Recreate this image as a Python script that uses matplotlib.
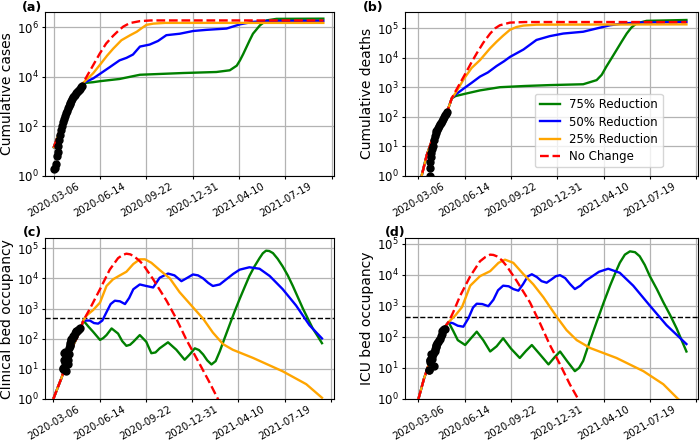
import numpy as np
import matplotlib
matplotlib.use("Agg")
import matplotlib.pyplot as plt
from matplotlib.ticker import NullLocator

# ---------------- data (days since 2020-03-06) ----------------
START = np.datetime64("2020-03-06")
tick_days = [0, 100, 200, 300, 400, 500, 600]
tick_labels = ["2020-03-06", "2020-06-14", "2020-09-22", "2020-12-31",
               "2021-04-10", "2021-07-19", ""]
series_names = ["75% Reduction", "50% Reduction", "25% Reduction", "No Change"]
series_colors = ["green", "blue", "orange", "red"]

# (a) cumulative cases
cases_obs_days = [0, 2, 4, 6, 8, 10, 12, 14, 16, 18, 20, 22, 24, 26, 28, 30, 32,
                  34, 36, 38, 40, 42, 44, 46, 48, 50, 52, 54, 56, 58, 60]
cases_obs = [1.9, 2.0, 3.0, 6.3, 8.9, 16, 28, 45, 71, 100, 145, 190, 250, 330,
             420, 520, 630, 760, 890, 1070, 1260, 1450, 1620, 1860, 2100, 2340,
             2630, 2950, 3310, 3720, 4170]
cases_fit_days = [0, 13, 20, 27, 35, 42, 49, 56, 63]
cases_fit = [14, 66, 200, 440, 850, 1500, 2400, 3600, 5500]
cases_nc_days = [80, 99, 113, 128, 140, 150, 164, 186, 210, 582]
cases_nc = [2.0e4, 8.5e4, 2.2e5, 4.5e5, 7.4e5, 1.07e6, 1.48e6, 1.78e6, 1.9e6, 1.9e6]
cases_25_days = [85, 100, 115, 128, 146, 165, 179, 190, 200, 215, 240, 582]
cases_25 = [1.38e4, 3.1e4, 7.1e4, 1.35e5, 3.0e5, 4.8e5, 6.6e5, 9.3e5, 1.26e6,
            1.41e6, 1.51e6, 1.51e6]
cases_50_days = [85, 100, 121, 142, 157, 171, 186, 207, 225, 243, 272, 301, 330,
                 373, 402, 430, 459, 582]
cases_50 = [8500, 1.32e4, 2.45e4, 4.6e4, 5.8e4, 7.9e4, 1.66e5, 2.0e5, 2.8e5,
            4.8e5, 5.5e5, 7.1e5, 7.9e5, 8.9e5, 1.32e6, 1.66e6, 1.82e6, 1.82e6]
cases_75_days = [85, 100, 142, 186, 279, 351, 380, 395, 402, 409, 416, 423, 430,
                 445, 459, 481, 582]
cases_75 = [6000, 6600, 8100, 1.2e4, 1.41e4, 1.55e4, 1.82e4, 2.8e4, 4.6e4,
            8.3e4, 1.58e5, 3.0e5, 5.5e5, 1.2e6, 1.9e6, 2.2e6, 2.24e6]

# (b) cumulative deaths
deaths_obs_days = [25, 25, 26, 27, 28, 30, 32, 33, 35, 37, 39, 41, 43, 45, 47,
                   49, 51, 53, 55, 57, 59, 61]
deaths_obs = [1, 1.8, 3.0, 4.2, 5.8, 7.9, 10, 16, 22, 28, 32, 35, 40, 48, 56,
              63, 74, 83, 95, 110, 123, 141]
deaths_fit_days = [0, 7, 18, 32, 43, 54, 65, 72]
deaths_fit = [0.5, 1, 5, 21, 40, 87, 200, 420]
deaths_nc_days = [80, 101, 115, 126, 140, 155, 166, 176, 198, 230, 579]
deaths_nc = [720, 2800, 7100, 1.41e4, 3.2e4, 6.6e4, 1.0e5, 1.26e5, 1.55e5,
             1.62e5, 1.62e5]
deaths_25_days = [80, 99, 115, 133, 155, 169, 183, 198, 212, 227, 255, 579]
deaths_25 = [630, 2000, 4500, 8300, 2.1e4, 3.5e4, 5.6e4, 8.9e4, 1.1e5, 1.23e5,
             1.32e5, 1.35e5]
deaths_50_days = [80, 99, 115, 133, 150, 169, 185, 198, 212, 227, 255, 284, 313,
                  356, 385, 414, 442, 471, 579]
deaths_50 = [560, 930, 1410, 2290, 3160, 5250, 7600, 1.07e4, 1.41e4, 1.9e4,
             4.0e4, 5.4e4, 6.6e4, 7.6e4, 9.8e4, 1.26e5, 1.45e5, 1.55e5, 1.62e5]
deaths_75_days = [80, 101, 133, 176, 230, 284, 356, 385, 396, 406, 417, 428,
                  439, 450, 460, 471, 493, 579]
deaths_75 = [500, 600, 780, 1000, 1100, 1180, 1260, 1740, 2630, 5000, 9500,
             1.82e4, 3.5e4, 6.6e4, 1.05e5, 1.45e5, 1.78e5, 1.9e5]

# (c) clinical bed occupancy
clin_obs_days = [21, 22, 23, 24, 25, 26, 27, 28, 29, 30, 31, 32, 33, 34, 35, 36,
                 37, 38, 39, 40, 42, 44, 46, 48, 50, 52, 54, 56, 58]
clin_obs = [10, 11, 20, 33, 35, 16, 13, 8.3, 18, 28, 20, 14, 32, 50, 63, 56, 71,
            89, 100, 100, 126, 126, 158, 166, 178, 178, 191, 209, 219]
clin_fit_days = [0, 10, 18, 29, 40, 50, 58, 65]
clin_fit = [1, 2.5, 5.1, 18, 48, 100, 200, 400]
clin_nc_days = [79, 101, 122, 140, 150, 158, 166, 173, 185, 194, 216, 245, 266,
                288, 317, 338, 356, 375]
clin_nc = [980, 4400, 1.95e4, 4.7e4, 6.0e4, 6.6e4, 6.3e4, 5.6e4, 4.0e4, 2.9e4,
           9300, 1800, 460, 91, 14, 3.5, 1, 0.25]
clin_25_days = [72, 86, 101, 115, 129, 144, 158, 173, 187, 198, 212, 230, 252,
                273, 302, 324, 345, 367, 388, 432, 496, 547, 581]
clin_25 = [590, 890, 1580, 5600, 9300, 1.26e4, 1.66e4, 3.0e4, 4.3e4, 4.3e4,
           3.3e4, 1.9e4, 1.0e4, 3500, 1100, 460, 160, 66, 43, 23, 8.3, 3.1, 1.1]
clin_50_days = [79, 88, 97, 106, 115, 124, 133, 144, 155, 164, 173, 187, 201,
                216, 230, 248, 262, 277, 290, 302, 313, 324, 335, 345, 360, 374,
                389, 403, 424, 446, 468, 496, 525, 554, 581]
clin_50 = [400, 330, 316, 400, 760, 1410, 1820, 1740, 1410, 2240, 4370, 6300,
           5600, 5000, 1.05e4, 1.45e4, 1.26e4, 8100, 1.05e4, 1.35e4, 1.26e4,
           1.0e4, 7100, 5600, 6300, 9300, 1.41e4, 1.95e4, 2.34e4, 2.09e4,
           1.2e4, 4400, 1260, 280, 102]
clin_75_days = [76, 86, 101, 108, 115, 126, 140, 149, 158, 166, 173, 187, 201,
                212, 221, 230, 248, 266, 284, 295, 306, 315, 324, 333, 342, 351,
                360, 370, 381, 392, 403, 414, 424, 435, 446, 453, 460, 467, 475,
                485, 496, 507, 518, 529, 540, 551, 561, 571, 581]
clin_75 = [251, 170, 91, 105, 132, 219, 148, 83, 58, 63, 79, 132, 79, 33, 35,
           48, 76, 43, 20, 30, 48, 42, 30, 19, 14, 18, 38, 100, 282, 794, 2090,
           5250, 1.2e4, 2.5e4, 4.7e4, 6.8e4, 8.3e4, 8.1e4, 6.9e4, 4.5e4, 2.5e4,
           1.26e4, 5600, 2340, 980, 447, 219, 126, 71]
clin_capacity = 480

# (d) ICU bed occupancy
icu_obs_days = [22, 23, 24, 25, 26, 27, 28, 29, 30, 31, 33, 34, 35, 36, 37, 38,
                39, 40, 42, 44, 46, 48, 50, 52, 54, 56, 58]
icu_obs = [8.3, 8.9, 16, 18, 18, 20, 28, 24, 20, 28, 32, 11.5, 35, 40, 52, 48,
           56, 63, 71, 79, 89, 105, 126, 151, 166, 178, 186]
icu_fit_days = [0, 12, 25, 36, 47, 56, 65]
icu_fit = [1, 4.5, 17, 50, 115, 200, 300]
icu_nc_days = [75, 90, 112, 133, 145, 155, 162, 169, 180, 191, 212, 241, 263,
               284, 306, 327, 345, 360]
icu_nc = [620, 2100, 9100, 2.75e4, 3.8e4, 4.5e4, 4.4e4, 4.0e4, 3.0e4, 1.9e4,
          6500, 1300, 270, 55, 13, 3, 1, 0.4]
icu_25_days = [80, 94, 112, 133, 155, 173, 187, 205, 227, 248, 270, 299, 320,
               342, 371, 428, 486, 529, 561, 579]
icu_25 = [500, 910, 4500, 9100, 1.32e4, 2.45e4, 3.1e4, 2.45e4, 1.05e4, 5000,
          1900, 440, 166, 79, 44, 21, 7.9, 3.0, 1.0, 0.63]
icu_50_days = [75, 85, 97, 108, 118, 126, 138, 151, 162, 172, 183, 195, 205,
               216, 226, 236, 245, 256, 266, 277, 287, 297, 306, 317, 328, 338,
               350, 360, 371, 390, 410, 435, 464, 500, 536, 579]
icu_50 = [275, 230, 214, 400, 890, 1180, 1150, 980, 1580, 3200, 4500, 4300,
          3500, 3100, 5000, 8900, 1.05e4, 8500, 6300, 5600, 7100, 9100, 9800,
          7900, 5000, 3500, 4500, 6300, 8100, 1.26e4, 1.58e4, 1.17e4, 4500,
          1020, 240, 59]
icu_75_days = [75, 85, 101, 113, 126, 140, 155, 169, 183, 200, 219, 232, 245,
               262, 281, 294, 306, 322, 338, 347, 356, 370, 385, 400, 414, 425,
               435, 446, 457, 468, 478, 489, 500, 515, 529, 544, 558, 579]
icu_75 = [158, 79, 55, 89, 148, 79, 34, 50, 91, 42, 21, 35, 55, 28, 13, 22, 34,
          16, 7.9, 10, 17, 71, 302, 1260, 4500, 1.12e4, 2.45e4, 4.5e4, 5.75e4,
          5.4e4, 4.0e4, 2.1e4, 9100, 3500, 1320, 500, 186, 34]
icu_capacity = 430

# ---------------- figure ----------------
plt.rcParams["font.family"] = ["DejaVu Sans"]
fig = plt.figure(figsize=(7.0, 4.45), dpi=100)


def dates(d):
    return START + np.asarray(d, dtype="timedelta64[D]")


panels = [
    dict(pos=[45 / 700, 1 - 175.5 / 445, 289 / 700, 163.5 / 445],
         xlim=(-19, 605), ylim=(1, 10 ** 6.62), yticks=[1, 1e2, 1e4, 1e6],
         ylabel="Cumulative cases", label="(a)", lab_xy=(22, 1),
         obs=(cases_obs_days, cases_obs), fit=(cases_fit_days, cases_fit),
         scen=[(cases_75_days, cases_75), (cases_50_days, cases_50),
               (cases_25_days, cases_25), (cases_nc_days, cases_nc)],
         cap=None, legend=False),
    dict(pos=[405 / 700, 1 - 175.7 / 445, 293 / 700, 164 / 445],
         xlim=(-29, 604), ylim=(1, 10 ** 5.56),
         yticks=[1, 1e1, 1e2, 1e3, 1e4, 1e5],
         ylabel="Cumulative deaths", label="(b)", lab_xy=(363, 1),
         obs=(deaths_obs_days, deaths_obs), fit=(deaths_fit_days, deaths_fit),
         scen=[(deaths_75_days, deaths_75), (deaths_50_days, deaths_50),
               (deaths_25_days, deaths_25), (deaths_nc_days, deaths_nc)],
         cap=None, legend=True),
    dict(pos=[45 / 700, 1 - 399 / 445, 289 / 700, 160.7 / 445],
         xlim=(-18, 607), ylim=(1, 10 ** 5.33),
         yticks=[1, 1e1, 1e2, 1e3, 1e4, 1e5],
         ylabel="Clinical bed occupancy", label="(c)", lab_xy=(23, 226),
         obs=(clin_obs_days, clin_obs), fit=(clin_fit_days, clin_fit),
         scen=[(clin_75_days, clin_75), (clin_50_days, clin_50),
               (clin_25_days, clin_25), (clin_nc_days, clin_nc)],
         cap=clin_capacity, legend=False),
    dict(pos=[405 / 700, 1 - 399 / 445, 293 / 700, 160.7 / 445],
         xlim=(-29, 604), ylim=(1, 10 ** 5.18),
         yticks=[1, 1e1, 1e2, 1e3, 1e4, 1e5],
         ylabel="ICU bed occupancy", label="(d)", lab_xy=(385, 226),
         obs=(icu_obs_days, icu_obs), fit=(icu_fit_days, icu_fit),
         scen=[(icu_75_days, icu_75), (icu_50_days, icu_50),
               (icu_25_days, icu_25), (icu_nc_days, icu_nc)],
         cap=icu_capacity, legend=False),
]

for p in panels:
    ax = fig.add_axes(p["pos"])
    ax.set_yscale("log")
    fd, fv = p["fit"]
    handles = []
    for (sd, sv), name, col in zip(p["scen"], series_names, series_colors):
        xd = dates(list(fd) + list(sd))
        yv = list(fv) + list(sv)
        if col == "red":
            h, = ax.plot(xd, yv, color=col, lw=1.7, ls="--", zorder=4, label=name)
        else:
            h, = ax.plot(xd, yv, color=col, lw=1.7, zorder=3, label=name)
        handles.append(h)
    od, ov = p["obs"]
    ax.plot(dates(od), ov, "o", color="black", ms=5, zorder=5)
    if p["cap"] is not None:
        ax.axhline(p["cap"], color="black", lw=1, ls="--", zorder=2)
    ax.set_xlim(dates([p["xlim"][0]])[0], dates([p["xlim"][1]])[0])
    ax.set_ylim(*p["ylim"])
    ax.set_yticks(p["yticks"])
    ax.yaxis.set_minor_locator(NullLocator())
    ax.set_xticks(dates(tick_days))
    ax.set_xticklabels(tick_labels, rotation=30, fontsize=7.2)
    ax.tick_params(axis="both", length=2.5, pad=1.5)
    ax.tick_params(axis="y", labelsize=8.5, pad=2)
    ax.grid(True, color="0.7", lw=0.9)
    ax.set_axisbelow(True)
    ax.set_ylabel(p["ylabel"], fontsize=10, labelpad=2)
    fig.text(p["lab_xy"][0] / 700, 1 - p["lab_xy"][1] / 445, p["label"],
             fontsize=9, fontweight="bold", ha="left", va="top")
    if p["legend"]:
        ax.legend(handles=handles, loc="lower right",
                  bbox_to_anchor=(0.88, 0.05), borderaxespad=0, fontsize=8.5,
                  handlelength=1.7, labelspacing=0.35)

fig.savefig("out.png", dpi=100)
